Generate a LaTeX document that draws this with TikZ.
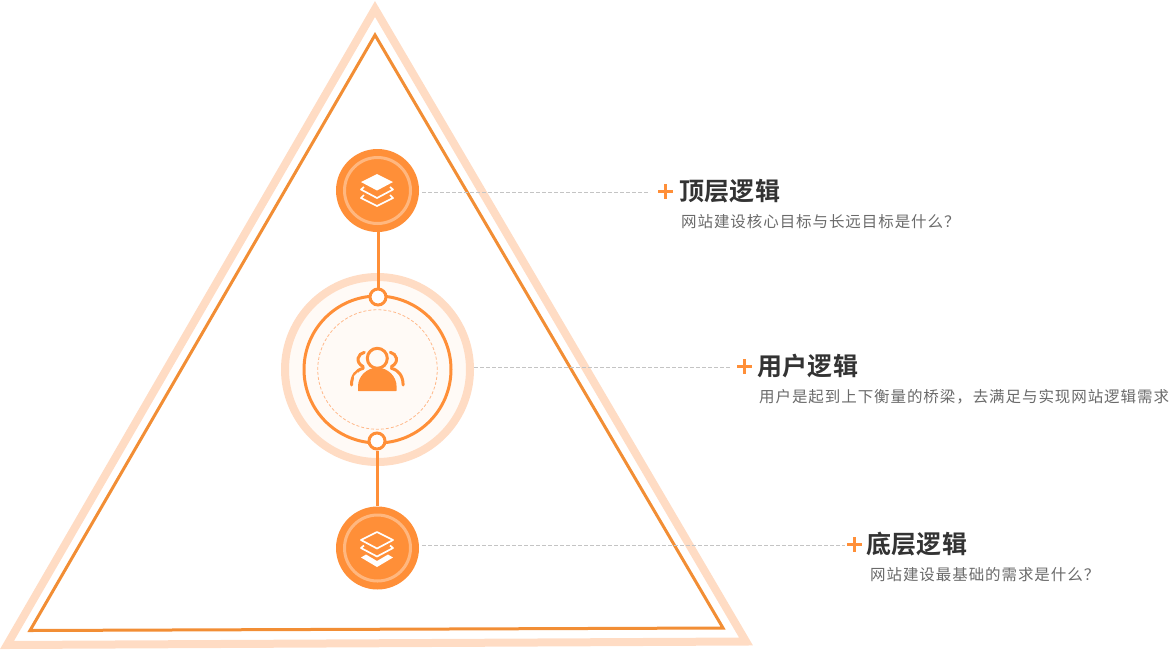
\documentclass[tikz,border=0pt]{standalone}
\usepackage{fontspec}
\newfontfamily\cjktitle[LetterSpace=1.5]{Noto Sans CJK SC Bold}
\newfontfamily\cjksub[LetterSpace=6]{Noto Sans CJK SC}
\definecolor{pale}{HTML}{FFDCC4}
\definecolor{tri}{HTML}{F28E35}
\definecolor{org}{HTML}{FF8F38}
\definecolor{ringc}{HTML}{FFB77F}
\definecolor{dash}{HTML}{FFB98A}
\definecolor{soft}{HTML}{FFFAF6}
\definecolor{leader}{HTML}{C4C4C4}
\definecolor{ttl}{HTML}{333333}
\definecolor{sub}{HTML}{6A6A6A}
\tikzset{
  hub/.style={circle,fill=org,draw=none,minimum size=83pt,inner sep=0pt},
  joint/.style={circle,fill=white,draw=org,line width=3pt,minimum size=16pt,inner sep=0pt},
  link/.style={draw=org,line width=3pt},
  leaderline/.style={draw=leader,line width=1pt,dash pattern=on 4pt off 2pt},
  plus/.style={draw=org,line width=3pt},
  layer/.style={draw=white,line width=1.7pt,line join=round},
  titletext/.style={anchor=west,inner sep=0pt,text=ttl,font=\fontsize{25}{25}\cjktitle},
  subtext/.style={anchor=west,inner sep=0pt,text=sub,font=\fontsize{15.5}{15.5}\cjksub},
}
\begin{document}
\begin{tikzpicture}[x=1pt,y=-1pt]
\useasboundingbox (0,0) rectangle (1170,649);
% triangles
\draw[pale,line width=8pt,miter limit=10] (375,9) -- (7,645) -- (746,641.5) -- cycle;
\draw[tri,line width=3pt,miter limit=10] (375,35) -- (30,630.5) -- (723,628) -- cycle;
% middle hub
\node[circle,fill=soft,draw=pale,line width=8pt,minimum size=185pt,inner sep=0pt] (halo) at (377.5,369.5) {};
\node[circle,draw=org,line width=3pt,minimum size=147pt,inner sep=0pt] (ring) at (377.5,369.5) {};
\node[circle,draw=dash,line width=0.8pt,dash pattern=on 3pt off 2pt,minimum size=119.5pt,inner sep=0pt] (inner) at (377.5,369.5) {};
% top and bottom hubs
\node[hub] (top) at (377.5,190.5) {};
\node[hub] (bot) at (377.5,548) {};
\node[circle,draw=ringc,line width=3pt,minimum size=66pt,inner sep=0pt] (topring) at (top) {};
\node[circle,draw=ringc,line width=3pt,minimum size=66pt,inner sep=0pt] (botring) at (bot) {};
% joints and links
\node[joint] (j1) at (378,297) {};
\node[joint] (j2) at (377,441) {};
\draw[link] (top.south -| j1) -- (j1.north);
\draw[link] (j2.south) -- (bot.north -| j2);
% top layers icon
\fill[white] (361,182) -- (377,174) -- (393,182) -- (377,190.5) -- cycle;
\draw[layer] (364,187) -- (361,189.5) -- (377,198) -- (393,189.5) -- (390,187);
\draw[layer] (364,195) -- (361,198) -- (377,206) -- (393,198) -- (390,195);
% bottom layers icon
\draw[layer] (361,540) -- (377,532) -- (393,540) -- (377,548.5) -- cycle;
\draw[layer] (364,545.5) -- (361,548) -- (377,556.5) -- (393,548) -- (390,545.5);
\fill[white] (361,557.5) -- (366,554.5) -- (377,561) -- (388,554.5) -- (393,557.5) -- (377,567) -- cycle;
% people icon
\draw[org,line width=3pt] (377.3,358.3) circle (10);
\draw[org,line width=3pt,line cap=round] (364.3,352.3) .. controls (358,353.5) and (354.5,362) .. (363.3,366.7);
\draw[org,line width=3pt,line cap=round] (363.3,368.3) .. controls (356,370) and (351.5,376) .. (351.5,385);
\draw[org,line width=3pt,line cap=round] (390.3,352.3) .. controls (396.6,353.5) and (400,362) .. (391.3,366.7);
\draw[org,line width=3pt,line cap=round] (391.3,368.3) .. controls (398.6,370) and (403.1,376) .. (403.1,385);
\fill[soft] (354,391) -- (358,391) -- (358,372) -- (354,376) -- cycle;
\fill[org,rounded corners=0.5pt] (358,391) -- (358,387) arc[start angle=180,end angle=360,radius=19.3] -- (396.6,391) -- cycle;
% labels
\coordinate (e1) at (650,192);
\coordinate (e2) at (730,367);
\coordinate (e3) at (845,545);
\draw[leaderline] (422,192) -- (e1);
\draw[leaderline] (halo.east |- e2) -- (e2);
\draw[leaderline] (422,545) -- (e3);
\draw[plus] (658,191.5) -- (673,191.5) (665.5,184) -- (665.5,199);
\draw[plus] (737,366.5) -- (752,366.5) (744.5,359) -- (744.5,374);
\draw[plus] (847,544.5) -- (862,544.5) (854.5,537) -- (854.5,552);
\node[titletext] (t1) at (679,191) {顶层逻辑};
\node[titletext] (t2) at (757,366) {用户逻辑};
\node[titletext] (t3) at (866,544) {底层逻辑};
\node[subtext] (s1) at (681,222) {网站建设核心目标与长远目标是什么？};
\node[subtext] (s2) at (759,397) {用户是起到上下衡量的桥梁，去满足与实现网站逻辑需求};
\node[subtext] (s3) at (870,575) {网站建设最基础的需求是什么？};
\end{tikzpicture}
\end{document}
